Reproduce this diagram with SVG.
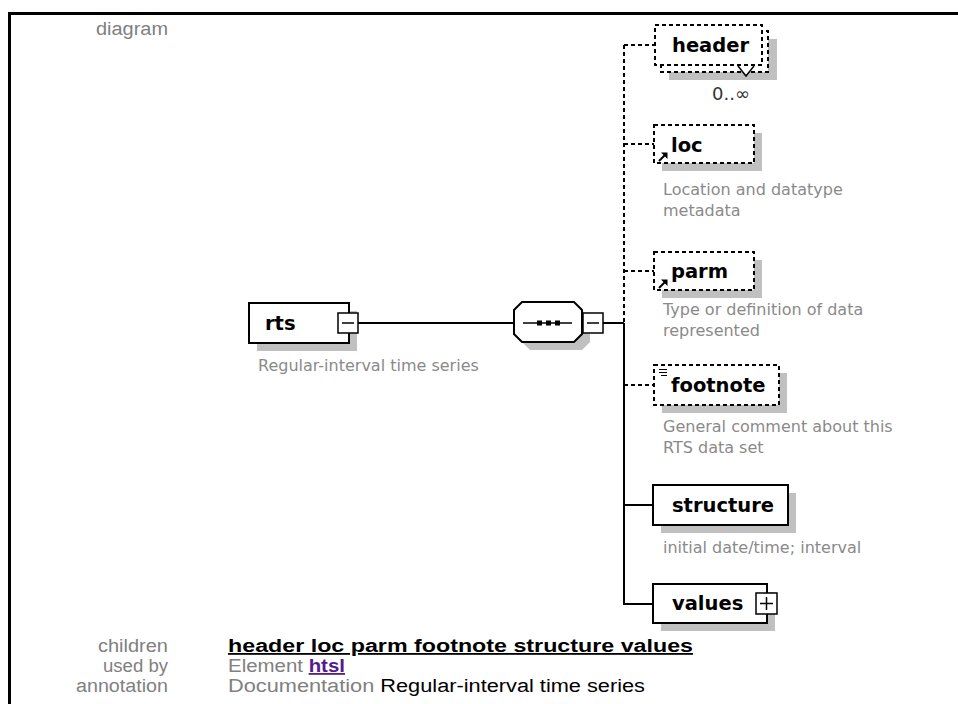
<svg xmlns="http://www.w3.org/2000/svg" width="958" height="704" viewBox="0 0 958 704">
  <defs>
    <style>
      .frame { fill: none; stroke: #000; stroke-width: 3; }
      .box { fill: #fff; stroke: #000; stroke-width: 2; }
      .opt { fill: #fff; stroke: #000; stroke-width: 2; stroke-dasharray: 4 3; }
      .shadow { fill: #c0c0c0; stroke: none; }
      .small { fill: #fff; stroke: #000; stroke-width: 1.5; }
      .wire { fill: none; stroke: #000; stroke-width: 2; }
      .wire-opt { fill: none; stroke: #000; stroke-width: 2; stroke-dasharray: 4 3; }
      .name { font-family: "DejaVu Sans", Verdana, sans-serif; font-weight: bold; font-size: 19.5px; fill: #000; }
      .doc { font-family: "DejaVu Sans", Tahoma, sans-serif; font-size: 16px; fill: #8a8a8a; }
      .occ { font-family: "DejaVu Sans", Tahoma, sans-serif; font-size: 18px; fill: #333; }
      .lbl { font-family: "Liberation Sans", Arial, sans-serif; font-size: 18px; fill: #808080; }
      .kids { font-family: "Liberation Sans", Arial, sans-serif; font-size: 18px; fill: #000; font-weight: bold; text-decoration: underline; }
      .link { font-weight: bold; text-decoration: underline; }
    </style>
  </defs>

  <!-- table frame (left and top edges) -->
  <path class="frame" d="M9.5,704 V13.5 H958"/>

  <text class="lbl" x="168" y="35" text-anchor="end" textLength="72" lengthAdjust="spacingAndGlyphs">diagram</text>

  <!-- connectors -->
  <g id="connectors">
    <line class="wire" x1="358" y1="323" x2="514" y2="323"/>
    <line class="wire" x1="603" y1="323" x2="624" y2="323"/>
    <line class="wire-opt" x1="624" y1="45" x2="624" y2="323"/>
    <line class="wire" x1="624" y1="323" x2="624" y2="605"/>
    <line class="wire-opt" x1="624" y1="45" x2="655" y2="45"/>
    <line class="wire-opt" x1="624" y1="144" x2="654" y2="144"/>
    <line class="wire-opt" x1="624" y1="271" x2="654" y2="271"/>
    <line class="wire-opt" x1="624" y1="385" x2="654" y2="385"/>
    <line class="wire" x1="623" y1="505" x2="653" y2="505"/>
    <line class="wire" x1="623" y1="604" x2="653" y2="604"/>
  </g>

  <!-- root element -->
  <g id="rts">
    <rect class="shadow" x="257" y="311" width="100" height="40"/>
    <rect class="box" x="249" y="303" width="100" height="40"/>
    <text class="name" x="265" y="330">rts</text>
    <rect class="small" x="338" y="313" width="20" height="20"/>
    <line class="wire" x1="342" y1="323" x2="354" y2="323" style="stroke-width:1.5"/>
    <text class="doc" x="258" y="371">Regular-interval time series</text>
  </g>

  <!-- sequence compositor -->
  <g id="sequence">
    <path class="shadow" d="M530,310 H582 L590,318 V342 L582,350 H530 L522,342 V318 Z"/>
    <path class="box" d="M522,302 H574 L582,310 V334 L574,342 H522 L514,334 V310 Z"/>
    <line x1="523" y1="323" x2="572" y2="323" stroke="#000" stroke-width="1.5"/>
    <rect x="537" y="320.5" width="5" height="5" fill="#000"/>
    <rect x="546" y="320.5" width="5" height="5" fill="#000"/>
    <rect x="555" y="320.5" width="5" height="5" fill="#000"/>
    <rect class="small" x="583" y="313" width="20" height="20"/>
    <line x1="587" y1="323" x2="599" y2="323" stroke="#000" stroke-width="1.5"/>
  </g>

  <!-- header: optional, repeating -->
  <g id="header">
    <rect class="shadow" x="669" y="39" width="108" height="41"/>
    <rect class="opt" x="661" y="31" width="107" height="41"/>
    <rect class="opt" x="655" y="25" width="107" height="40"/>
    <path d="M738,66 L746,76 L754,66" fill="#fff" stroke="#000" stroke-width="1.5"/>
    <text class="name" x="672" y="52">header</text>
    <text class="occ" x="712" y="100">0..∞</text>
  </g>

  <!-- loc: optional reference -->
  <g id="loc">
    <rect class="shadow" x="662" y="133" width="100" height="38"/>
    <rect class="opt" x="654" y="125" width="100" height="38"/>
    <path d="M659,161 L665,155" stroke="#000" stroke-width="2"/>
    <path d="M661,152.5 H667.5 V159 Z" fill="#000"/>
    <text class="name" x="671" y="152">loc</text>
    <text class="doc" x="663" y="195">Location and datatype</text>
    <text class="doc" x="663" y="216">metadata</text>
  </g>

  <!-- parm: optional reference -->
  <g id="parm">
    <rect class="shadow" x="662" y="260" width="100" height="38"/>
    <rect class="opt" x="654" y="252" width="100" height="38"/>
    <path d="M659,288 L665,282" stroke="#000" stroke-width="2"/>
    <path d="M661,279.5 H667.5 V286 Z" fill="#000"/>
    <text class="name" x="671" y="278">parm</text>
    <text class="doc" x="663" y="315">Type or definition of data</text>
    <text class="doc" x="663" y="336">represented</text>
  </g>

  <!-- footnote: optional, mixed content -->
  <g id="footnote">
    <rect class="shadow" x="662" y="373" width="125" height="40"/>
    <rect class="opt" x="654" y="365" width="125" height="40"/>
    <path d="M659,369.5 H667 M659,372.5 H667 M661,375.5 H667" stroke="#000" stroke-width="1"/>
    <text class="name" x="671" y="392">footnote</text>
    <text class="doc" x="663" y="432">General comment about this</text>
    <text class="doc" x="663" y="453">RTS data set</text>
  </g>

  <!-- structure -->
  <g id="structure">
    <rect class="shadow" x="661" y="493" width="135" height="40"/>
    <rect class="box" x="653" y="485" width="135" height="40"/>
    <text class="name" x="672" y="512">structure</text>
    <text class="doc" x="663" y="553">initial date/time; interval</text>
  </g>

  <!-- values -->
  <g id="values">
    <rect class="shadow" x="661" y="592" width="114" height="39"/>
    <rect class="box" x="653" y="584" width="114" height="39"/>
    <text class="name" x="672" y="610">values</text>
    <rect class="small" x="756" y="593" width="21" height="21"/>
    <path d="M760,603.5 H773 M766.5,597 V610" stroke="#000" stroke-width="1.5"/>
  </g>

  <!-- detail rows -->
  <text class="lbl" x="168" y="652" text-anchor="end" textLength="70" lengthAdjust="spacingAndGlyphs">children</text>
  <text class="kids" x="228" y="652" textLength="465" lengthAdjust="spacingAndGlyphs">header loc parm footnote structure values</text>
  <text class="lbl" x="168" y="672" text-anchor="end" textLength="65" lengthAdjust="spacingAndGlyphs">used by</text>
  <text class="lbl" x="228" y="672" textLength="117" lengthAdjust="spacingAndGlyphs">Element <tspan class="link" fill="#551a8b">htsl</tspan></text>
  <text class="lbl" x="168" y="692" text-anchor="end" textLength="92" lengthAdjust="spacingAndGlyphs">annotation</text>
  <text class="lbl" x="228" y="692" textLength="417" lengthAdjust="spacingAndGlyphs">Documentation <tspan fill="#000">Regular-interval time series</tspan></text>
</svg>
